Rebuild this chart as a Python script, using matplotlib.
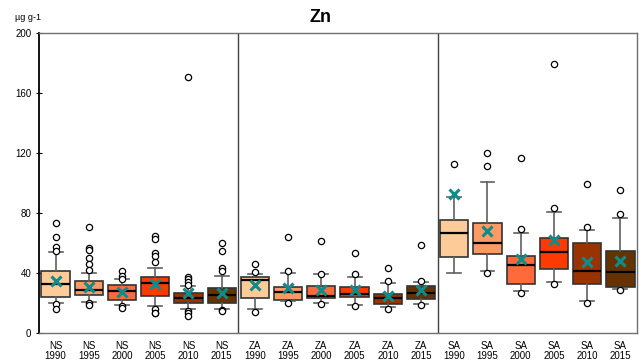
import matplotlib
matplotlib.use("Agg")
import matplotlib.pyplot as plt

plt.rcParams['font.family'] = ['Liberation Sans', 'DejaVu Sans']

sites = ['NS'] * 6 + ['ZA'] * 6 + ['SA'] * 6
years = ['1990', '1995', '2000', '2005', '2010', '2015'] * 3
year_colors = ['#FDCB97', '#FC9A66', '#FF6A3D', '#FF3A00', '#993300', '#663300']

q1 = [24.2, 25.1, 21.8, 24.7, 19.8, 20.2,
      23.5, 22.0, 23.1, 24.2, 19.3, 22.4,
      50.5, 52.4, 32.4, 42.4, 32.4, 30.4]
med = [32.4, 28.7, 28.0, 33.1, 23.1, 25.3,
       35.3, 27.6, 24.9, 26.0, 23.1, 26.4,
       66.9, 59.8, 45.3, 53.8, 41.3, 40.9]
q3 = [41.5, 34.9, 32.0, 37.5, 26.9, 29.8,
      37.5, 30.4, 31.3, 30.9, 25.8, 31.3,
      75.1, 73.1, 51.3, 63.1, 59.8, 54.7]
whislo = [20.2, 20.9, 18.4, 18.0, 16.0, 16.2,
          16.0, 21.4, 20.2, 18.4, 17.1, 19.3,
          39.8, 41.5, 28.0, 33.8, 21.3, 29.3]
whishi = [53.8, 39.8, 36.2, 43.6, 31.3, 38.0,
          39.1, 39.8, 39.3, 37.1, 33.5, 33.8,
          90.9, 100.4, 66.4, 80.9, 68.7, 76.9]
means = [34.9, 30.9, 27.6, 32.4, 26.5, 27.0,
         32.0, 30.0, 29.0, 29.0, 25.0, 28.7,
         92.7, 68.0, 49.1, 62.0, 47.6, 48.0]
fliers = [
    [73.1, 63.8, 57.5, 54.5, 19.3, 16.0],
    [70.5, 56.4, 55.3, 49.8, 45.8, 42.0, 20.2, 19.0],
    [41.5, 37.8, 36.0, 18.0, 17.0],
    [64.7, 62.4, 53.6, 51.3, 47.6, 16.2, 13.3, 13.1],
    [170.4, 37.6, 35.8, 34.0, 32.2, 14.9, 13.1, 11.3],
    [59.8, 54.7, 43.1, 41.6, 15.3, 14.4],
    [45.8, 40.5, 14.0],
    [64.2, 41.5, 20.2],
    [61.3, 39.6, 19.3],
    [53.1, 39.3, 18.0],
    [43.1, 34.7, 16.0],
    [58.9, 34.7, 18.7],
    [112.4],
    [120.2, 111.3, 40.2],
    [116.9, 69.3, 26.9],
    [179.3, 83.5, 32.4],
    [99.1, 70.9, 20.2],
    [95.5, 79.1, 28.7],
]

stats = []
for i in range(len(sites)):
    stats.append(dict(med=med[i], q1=q1[i], q3=q3[i], whislo=whislo[i],
                      whishi=whishi[i], mean=means[i], fliers=fliers[i]))

fig = plt.figure(figsize=(6.42, 3.63), dpi=100)
ax = fig.add_axes([0.0607, 0.0826, 0.9315, 0.8264])

positions = [i + 0.5 for i in range(len(sites))]
bp = ax.bxp(stats, positions=positions, widths=0.85, patch_artist=True,
            showmeans=True,
            boxprops=dict(edgecolor='#333333', linewidth=1.2),
            medianprops=dict(color='black', linewidth=1.6),
            whiskerprops=dict(color='#606060', linewidth=1.2),
            capprops=dict(color='#606060', linewidth=1.2),
            capwidths=0.42,
            flierprops=dict(marker='o', markerfacecolor='white',
                            markeredgecolor='black', markersize=4.5,
                            markeredgewidth=0.9),
            meanprops=dict(marker='x', markeredgecolor='#0E8C8C',
                           markersize=7, markeredgewidth=2.2))
for i, box in enumerate(bp['boxes']):
    box.set_facecolor(year_colors[i % 6])

for xdiv in [6, 12]:
    ax.axvline(xdiv, color='#404040', linewidth=1.0)

ax.set_xlim(0, 18)
ax.set_ylim(0, 200)
ax.set_yticks([0, 40, 80, 120, 160, 200])
ax.set_xticks(positions)
ax.set_xticklabels([s + '\n' + y for s, y in zip(sites, years)], fontsize=7,
                   linespacing=1.0)
ax.tick_params(axis='x', length=0, pad=6)
ax.tick_params(axis='y', labelsize=7, direction='inout', length=4, width=0.8)

for side in ['top', 'right', 'bottom']:
    ax.spines[side].set_color('#707070')
    ax.spines[side].set_linewidth(1.0)
ax.spines['left'].set_color('black')
ax.spines['left'].set_linewidth(1.3)

fig.text(0.5, 0.952, 'Zn', ha='center', va='center', fontsize=13,
         fontweight='bold')
fig.text(0.023, 0.952, 'µg g-1', ha='left', va='center', fontsize=6.5)

fig.savefig('out.png', dpi=100)
